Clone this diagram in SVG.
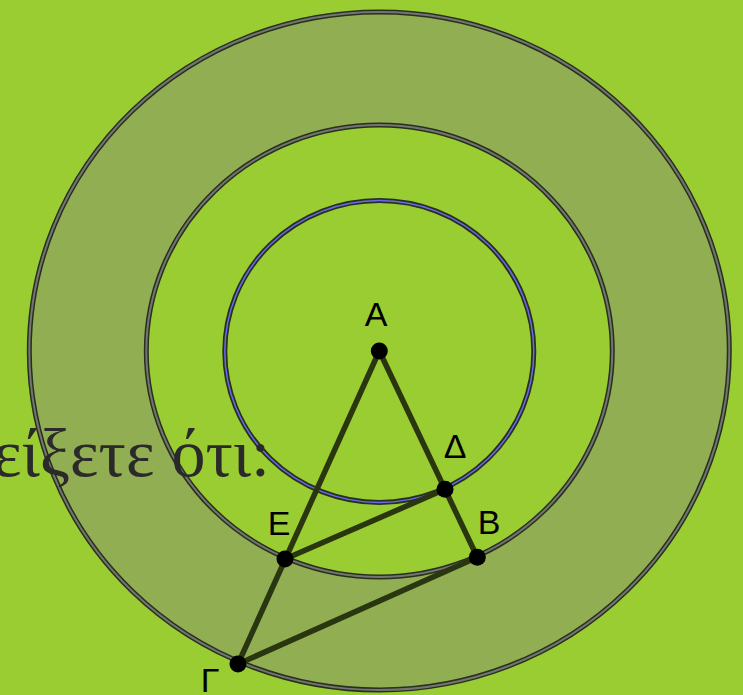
<svg xmlns="http://www.w3.org/2000/svg" width="743" height="695" viewBox="0 0 743 695">
<style>
.ring{fill:none;stroke:#27301d;stroke-width:5}
.ringg{fill:none;stroke:#747472;stroke-width:2}
.ringb{fill:none;stroke:#6a6af0;stroke-width:1.5}
.seg{stroke:#29360f;stroke-width:5.5;stroke-linecap:round}
.pt{fill:#000}
.lbl{font-family:"Liberation Sans",Arial,sans-serif;font-size:34px;fill:#000;text-anchor:middle}
.greek{font-family:"Liberation Serif","Times New Roman",serif;font-size:68px;fill:#2a2a2a;text-anchor:end}
</style>
<rect width="743" height="695" fill="#9acd32"/>
<g id="outer-ring">
<path d="M29.3,351 a350,339 0 1,0 700,0 a350,339 0 1,0 -700,0 Z M146.3,351 a233,226 0 1,1 466,0 a233,226 0 1,1 -466,0 Z" fill="#91ae53" fill-rule="evenodd"/>
<ellipse class="ring" cx="379.3" cy="351" rx="350" ry="339"/>
<ellipse class="ringg" cx="379.3" cy="351" rx="350" ry="339"/>
</g>
<g id="middle-circle">
<ellipse class="ring" cx="379.3" cy="351" rx="233" ry="226"/>
<ellipse class="ringg" cx="379.3" cy="351" rx="233" ry="226"/>
</g>
<g id="inner-circle">
<ellipse class="ring" cx="379.3" cy="351.5" rx="154.5" ry="151"/>
<ellipse class="ringb" cx="379.3" cy="351.5" rx="154.5" ry="151"/>
</g>
<text id="caption" class="greek" x="270" y="476">είξετε ότι:</text>
<g id="connectors">
<line class="seg" x1="379.3" y1="351" x2="238" y2="664"/>
<line class="seg" x1="379.3" y1="351" x2="477.3" y2="557.3"/>
<line class="seg" x1="285" y1="559" x2="445" y2="489.3"/>
<line class="seg" x1="238" y1="664" x2="477.3" y2="557.3"/>
</g>
<g id="A"><circle class="pt" cx="379.3" cy="351" r="8.5"/><text class="lbl" x="376" y="326">A</text></g>
<g id="Delta"><circle class="pt" cx="445" cy="489.3" r="8.5"/><text class="lbl" x="455" y="458">Δ</text></g>
<g id="B"><circle class="pt" cx="477.3" cy="557.3" r="8.5"/><text class="lbl" x="489" y="534">B</text></g>
<g id="E"><circle class="pt" cx="285" cy="559" r="8.5"/><text class="lbl" x="279" y="535">E</text></g>
<g id="Gamma"><circle class="pt" cx="238" cy="664" r="8.5"/><text class="lbl" x="210" y="692">Γ</text></g>
</svg>
